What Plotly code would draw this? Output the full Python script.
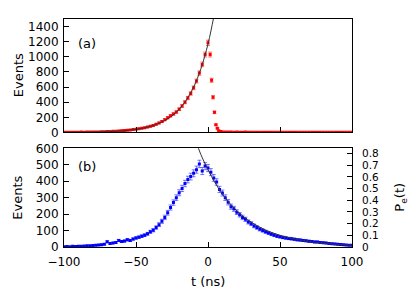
import numpy as np
import plotly.graph_objects as go

# ---------------- data ----------------
# panel (a)
t_a = [-100, -98, -96, -94, -92, -90, -88, -86, -84, -82, -80, -78, -76, -74, -72,
       -70, -68, -66, -64, -62, -60, -58, -56, -54, -52, -50, -48, -46, -44, -42,
       -40, -38, -36, -34, -32, -30, -28, -26, -24, -22, -20, -18, -16, -14, -12,
       -10, -8, -6, -4, -2, 0, 1.5, 2.5, 3.5, 4.5, 5.5, 6.5, 7.5, 9,
       10, 12, 14, 16, 18, 20, 22, 24, 26, 28, 30, 32, 34, 36, 38, 40, 42, 44, 46, 48,
       50, 52, 54, 56, 58, 60, 62, 64, 66, 68, 70, 72, 74, 76, 78, 80, 82, 84, 86, 88,
       90, 92, 94, 96, 98, 100]
events_a = [3, 2, 3, 4, 3, 4, 5, 4, 6, 5, 7, 8, 8, 10, 11,
            13, 14, 16, 18, 21, 24, 26, 30, 34, 38, 44, 50, 56, 62, 72,
            82, 94, 108, 126, 146, 170, 195, 220, 245, 270, 308, 350, 400, 455, 515,
            590, 680, 785, 900, 1030, 1185, 1030, 690, 465, 266, 101, 56, 22, 12,
            8, 6, 5, 5, 4, 5, 4, 4, 5, 3, 4, 4, 3, 4, 3, 4, 3, 3, 4, 3,
            3, 4, 3, 3, 2, 3, 3, 2, 3, 3, 2, 3, 2, 3, 2, 2, 3, 2, 2, 3,
            2, 2, 3, 2, 2, 2]

fit_a_t = [-100, -90, -80, -70, -60, -50, -40, -30, -25, -20, -15, -10, -5, 0, 3.7, 5]
fit_a_v = [1.5, 3, 5.6, 11, 21, 42, 81, 158, 221, 308, 430, 600, 838, 1170, 1500, 1640]

# panel (b)
t_b = list(range(-100, 101, 2))
events_b = [2, 3, 2, 4, 3, 5, 5, 6, 7, 8, 9, 11, 12, 14, 16,
            32, 22, 24, 28, 40, 33, 36, 44, 40, 48, 55, 60, 66, 72, 80,
            92, 102, 118, 136, 156, 180, 208, 240, 270, 300, 330, 356, 386, 410, 428,
            448, 470, 505, 462, 492, 480, 455, 420, 395, 350, 328, 300, 272, 245, 232,
            212, 196, 180, 168, 152, 142, 128, 118, 108, 100, 92, 85, 78, 72, 66,
            62, 58, 55, 52, 50, 47, 44, 42, 40, 38, 35, 33, 31, 30, 28,
            26, 24, 22, 20, 19, 16, 15, 14, 12, 11, 10]

fit_b_t = [-7, -5, 0, 5, 10, 15, 20, 25, 30, 40, 50, 60, 70, 80, 90, 100]
fit_b_v = [610, 563, 470, 389, 322, 266, 220, 182, 151, 103, 71, 49, 33, 23, 16, 11]

x_ticks = [-100, -50, 0, 50, 100]

# ---------------- figure ----------------
FONT = "DejaVu Sans, Liberation Sans, sans-serif"
FS = 12
fig = go.Figure()

err_a = np.sqrt(np.array(events_a, dtype=float))
err_b = np.sqrt(np.array(events_b, dtype=float))

fig.add_trace(go.Scatter(
    x=t_a, y=events_a, mode="markers", xaxis="x", yaxis="y",
    marker=dict(symbol="square", size=3, color="#ff0000", line=dict(width=0)),
    error_y=dict(type="data", array=err_a, color="rgba(255,0,0,0.55)", thickness=1, width=2),
    showlegend=False, cliponaxis=True))
fig.add_trace(go.Scatter(
    x=fit_a_t, y=fit_a_v, mode="lines", xaxis="x", yaxis="y",
    line=dict(color="#333333", width=1, shape="spline"), showlegend=False))

fig.add_trace(go.Scatter(
    x=t_b, y=events_b, mode="markers", xaxis="x2", yaxis="y2",
    marker=dict(symbol="square", size=3, color="#0000ff", line=dict(width=0)),
    error_y=dict(type="data", array=err_b, color="rgba(0,0,255,0.5)", thickness=1, width=2),
    showlegend=False, cliponaxis=True))
fig.add_trace(go.Scatter(
    x=fit_b_t, y=fit_b_v, mode="lines", xaxis="x2", yaxis="y2",
    line=dict(color="#333333", width=1, shape="spline"), showlegend=False))
# invisible trace to activate right axis
fig.add_trace(go.Scatter(x=[-100], y=[0], mode="markers", xaxis="x2", yaxis="y3",
                         marker=dict(opacity=0), showlegend=False, hoverinfo="skip"))

axis_common = dict(showline=True, linecolor="black", linewidth=1, mirror=True,
                   ticks="inside", ticklen=5, tickcolor="black", showgrid=False,
                   zeroline=False, tickfont=dict(family=FONT, size=FS, color="black"))

fig.update_layout(
    width=415, height=291,
    margin=dict(l=64, r=63, t=16, b=44),
    paper_bgcolor="white", plot_bgcolor="white",
    font=dict(family=FONT, size=FS, color="black"),
    xaxis=dict(domain=[0, 1], anchor="y", range=[-100, 100], tickvals=x_ticks,
               showticklabels=False, **axis_common),
    yaxis=dict(domain=[0.5022, 1], anchor="x", range=[0, 1500], dtick=200,
               ticklabelstandoff=2, **axis_common),
    xaxis2=dict(domain=[0, 1], anchor="y2", range=[-100, 100], tickvals=x_ticks,
                ticklabelstandoff=4, **axis_common),
    yaxis2=dict(domain=[0, 0.4329], anchor="x2", range=[0, 600], dtick=100,
                ticklabelstandoff=2, **axis_common),
    yaxis3=dict(overlaying="y2", side="right", anchor="x2", range=[0, 0.845], dtick=0.1,
                showline=False, ticks="inside", ticklen=5, tickcolor="black",
                showgrid=False, zeroline=False, tickformat=".1~f",
                ticklabelstandoff=9,
                tickfont=dict(family=FONT, size=10.5, color="black")),
)

ann = dict(showarrow=False, font=dict(family=FONT, size=FS + 1, color="black"))
fig.add_annotation(text="Events", xref="paper", yref="paper", x=-46 / 288, y=(247 - 73) / 231,
                   textangle=-90, xanchor="center", yanchor="middle", **ann)
fig.add_annotation(text="Events", xref="paper", yref="paper", x=-46 / 288, y=(247 - 197) / 231,
                   textangle=-90, xanchor="center", yanchor="middle", **ann)
fig.add_annotation(text="P<sub>e</sub>(t)", xref="paper", yref="paper", x=1 + 49 / 288,
                   y=(247 - 197) / 231, textangle=-90, xanchor="center", yanchor="middle", **ann)
fig.add_annotation(text="t (ns)", xref="paper", yref="paper", x=0.5 + 0 / 288,
                   y=(247 - 281.5) / 231, xanchor="center", yanchor="middle", **ann)
fig.add_annotation(text="(a)", xref="paper", yref="paper", x=(87 - 64) / 288,
                   y=(247 - 41) / 231, xanchor="center", yanchor="middle", **ann)
fig.add_annotation(text="(b)", xref="paper", yref="paper", x=(87 - 64) / 288,
                   y=(247 - 165) / 231, xanchor="center", yanchor="middle", **ann)

fig.write_html("out.html", config={"displayModeBar": False},
               post_script="document.body.style.margin='0';document.body.style.padding='0';")
